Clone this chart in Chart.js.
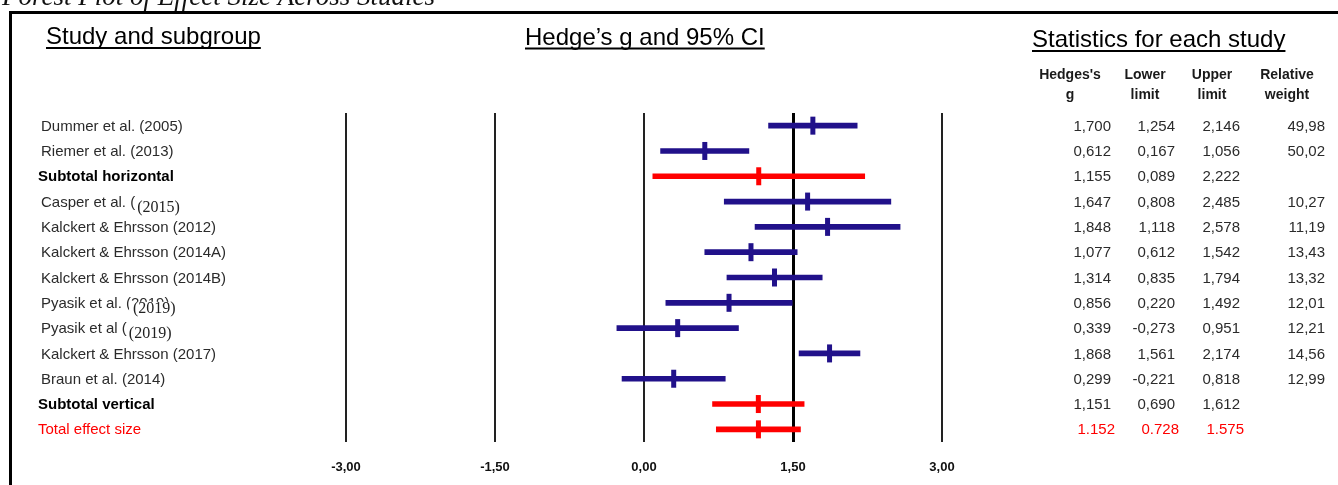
<!DOCTYPE html>
<html>
<head>
<meta charset="utf-8">
<title>Forest Plot of Effect Size Across Studies</title>
<script src="https://cdn.jsdelivr.net/npm/chart.js@4.4.1/dist/chart.umd.min.js"></script>
<style>
  html, body { margin: 0; padding: 0; background: #ffffff; }
  #wrap { width: 1338px; height: 485px; position: relative; }
</style>
</head>
<body>
<div id="wrap">
  <canvas id="forest" width="1338" height="485"></canvas>
</div>
<script>
// Rows of the forest plot, top to bottom
const studies = [
    'Dummer et al. (2005)',
    'Riemer et al. (2013)',
    'Subtotal horizontal',
    'Casper et al. (',
    'Kalckert & Ehrsson (2012)',
    'Kalckert & Ehrsson (2014A)',
    'Kalckert & Ehrsson (2014B)',
    'Pyasik et al. (2019)',
    'Pyasik et al (',
    'Kalckert & Ehrsson (2017)',
    'Braun et al. (2014)',
    'Subtotal vertical',
    'Total effect size'
];
// pasted-over years (serif) on some rows
const yearPatch = ['', '', '', '(2015)', '', '', '', '(2019)', '(2019)', '', '', '', ''];
const rowKind = ['study', 'study', 'subtotal', 'study', 'study', 'study', 'study',
                 'study', 'study', 'study', 'study', 'subtotal', 'total'];

const hedgesG    = [1.700, 0.612, 1.155, 1.647, 1.848, 1.077, 1.314, 0.856, 0.339, 1.868, 0.299, 1.151, 1.152];
const lowerLimit = [1.254, 0.167, 0.089, 0.808, 1.118, 0.612, 0.835, 0.220, -0.273, 1.561, -0.221, 0.690, 0.728];
const upperLimit = [2.146, 1.056, 2.222, 2.485, 2.578, 1.542, 1.794, 1.492, 0.951, 2.174, 0.818, 1.612, 1.575];
const relWeight  = ['49,98', '50,02', '', '10,27', '11,19', '13,43', '13,32', '12,01', '12,21', '14,56', '12,99', '', ''];

const xTicks = [-3, -1.5, 0, 1.5, 3];

const NAVY = '#21118a';
const RED = '#ff0000';
const rowColors = rowKind.map(k => k === 'study' ? NAVY : RED);

function fmt(v, kind) {
    const s = v.toFixed(3);
    return kind === 'total' ? s : s.replace('.', ',');
}

// Text, headers and the frame around the plot
const annotations = {
    id: 'annotations',
    afterDraw(chart) {
        const ctx = chart.ctx;
        const y = chart.scales.y;
        ctx.save();

        // cut-off caption above the frame
        ctx.fillStyle = '#111';
        ctx.font = 'italic 27px "Liberation Serif", "DejaVu Serif", serif';
        ctx.textAlign = 'left';
        ctx.textBaseline = 'alphabetic';
        ctx.fillText('Forest Plot of Effect Size Across Studies', 2, 5);

        // frame
        ctx.strokeStyle = '#000';
        ctx.lineWidth = 3;
        ctx.beginPath();
        ctx.moveTo(10.5, 485);
        ctx.lineTo(10.5, 12.5);
        ctx.lineTo(1338, 12.5);
        ctx.stroke();

        // section headers
        ctx.font = '24px "Liberation Sans", Arial, sans-serif';
        ctx.fillStyle = '#000';
        const headers = [
            { text: 'Study and subgroup', x: 46, base: 44, ul: 48 },
            { text: 'Hedge\u2019s g and 95% CI', x: 525, base: 45, ul: 48.5 },
            { text: 'Statistics for each study', x: 1032, base: 47, ul: 51 }
        ];
        headers.forEach(h => {
            ctx.textAlign = 'left';
            ctx.fillText(h.text, h.x, h.base);
            const w = ctx.measureText(h.text).width;
            ctx.lineWidth = 2;
            ctx.beginPath();
            ctx.moveTo(h.x, h.ul);
            ctx.lineTo(h.x + w, h.ul);
            ctx.stroke();
        });

        // column headers of the stats table
        ctx.font = 'bold 14px "Liberation Sans", Arial, sans-serif';
        ctx.fillStyle = '#1a1a1a';
        ctx.textAlign = 'center';
        ctx.textBaseline = 'middle';
        const colHeads = [['Hedges\'s', 'g', 1070], ['Lower', 'limit', 1145], ['Upper', 'limit', 1212], ['Relative', 'weight', 1287]];
        colHeads.forEach(c => {
            ctx.fillText(c[0], c[2], 75);
            ctx.fillText(c[1], c[2], 95);
        });

        // row labels and numbers
        studies.forEach((name, i) => {
            const cy = y.getPixelForValue(i) + 1;
            const kind = rowKind[i];
            ctx.textBaseline = 'middle';
            ctx.textAlign = 'left';
            if (kind === 'subtotal') {
                ctx.font = 'bold 15px "Liberation Sans", Arial, sans-serif';
                ctx.fillStyle = '#000';
                ctx.fillText(name, 38, cy);
            } else if (kind === 'total') {
                ctx.font = '15px "Liberation Sans", Arial, sans-serif';
                ctx.fillStyle = RED;
                ctx.fillText(name, 38, cy);
            } else {
                ctx.font = '15px "Liberation Sans", Arial, sans-serif';
                ctx.fillStyle = '#2b2b2b';
                ctx.fillText(name, 41, cy);
            }
            if (yearPatch[i]) {
                let px = 41 + ctx.measureText(name).width;
                if (name.endsWith(')')) {
                    // the year was pasted over the original text
                    px = 41 + ctx.measureText(name.slice(0, name.indexOf('(') + 1)).width;
                    ctx.fillStyle = '#fff';
                    ctx.fillRect(px - 2, cy - 2, 56, 14);
                }
                ctx.font = '16px "Liberation Serif", "DejaVu Serif", serif';
                ctx.fillStyle = '#222';
                ctx.fillText(yearPatch[i], px + 2, cy + 5);
            }

            ctx.textAlign = 'right';
            ctx.font = '15px "Liberation Sans", Arial, sans-serif';
            ctx.fillStyle = kind === 'total' ? RED : '#2b2b2b';
            const shift = kind === 'total' ? 4 : 0;
            ctx.fillText(fmt(hedgesG[i], kind), 1111 + shift, cy);
            ctx.fillText(fmt(lowerLimit[i], kind), 1175 + shift, cy);
            ctx.fillText(fmt(upperLimit[i], kind), 1240 + shift, cy);
            if (relWeight[i]) ctx.fillText(relWeight[i], 1325, cy);
        });

        ctx.restore();
    }
};

const ctx = document.getElementById('forest').getContext('2d');
new Chart(ctx, {
    type: 'bar',
    data: {
        labels: studies,
        datasets: [
            {
                type: 'bar',
                label: '95% CI',
                data: lowerLimit.map((lo, i) => [lo, upperLimit[i]]),
                backgroundColor: rowColors,
                borderWidth: 0,
                borderSkipped: false,
                barThickness: 5,
                grouped: false,
                order: 2
            },
            {
                type: 'line',
                label: "Hedges's g",
                data: hedgesG.map((g, i) => ({ x: g, y: studies[i] })),
                showLine: false,
                pointStyle: 'line',
                rotation: 90,
                pointRadius: 9,
                pointHoverRadius: 9,
                pointBorderWidth: 5,
                pointBorderColor: rowColors,
                pointBackgroundColor: rowColors,
                order: 1
            }
        ]
    },
    options: {
        indexAxis: 'y',
        responsive: false,
        animation: false,
        events: [],
        layout: { padding: { left: 346, right: 396, top: 113, bottom: 0 } },
        plugins: {
            legend: { display: false },
            tooltip: { enabled: false },
            title: { display: false }
        },
        scales: {
            x: {
                type: 'linear',
                min: -3,
                max: 3,
                afterBuildTicks(scale) {
                    scale.ticks = xTicks.map(v => ({ value: v }));
                },
                afterFit(scale) { scale.height = 43; },
                border: { display: false },
                grid: {
                    drawTicks: false,
                    color: ctx => ctx.tick && ctx.tick.value === 1.5 ? '#000' : '#222',
                    lineWidth: ctx => ctx.tick && ctx.tick.value === 1.5 ? 3 : 2
                },
                ticks: {
                    padding: 18,
                    color: '#111',
                    font: { family: '"Liberation Sans Narrow", "Liberation Sans", Arial, sans-serif', size: 13, weight: 'bold' },
                    callback: v => v.toFixed(2).replace('.', ','),
                    maxRotation: 0
                }
            },
            y: {
                type: 'category',
                display: false,
                offset: true
            }
        }
    },
    plugins: [annotations]
});
</script>
</body>
</html>
